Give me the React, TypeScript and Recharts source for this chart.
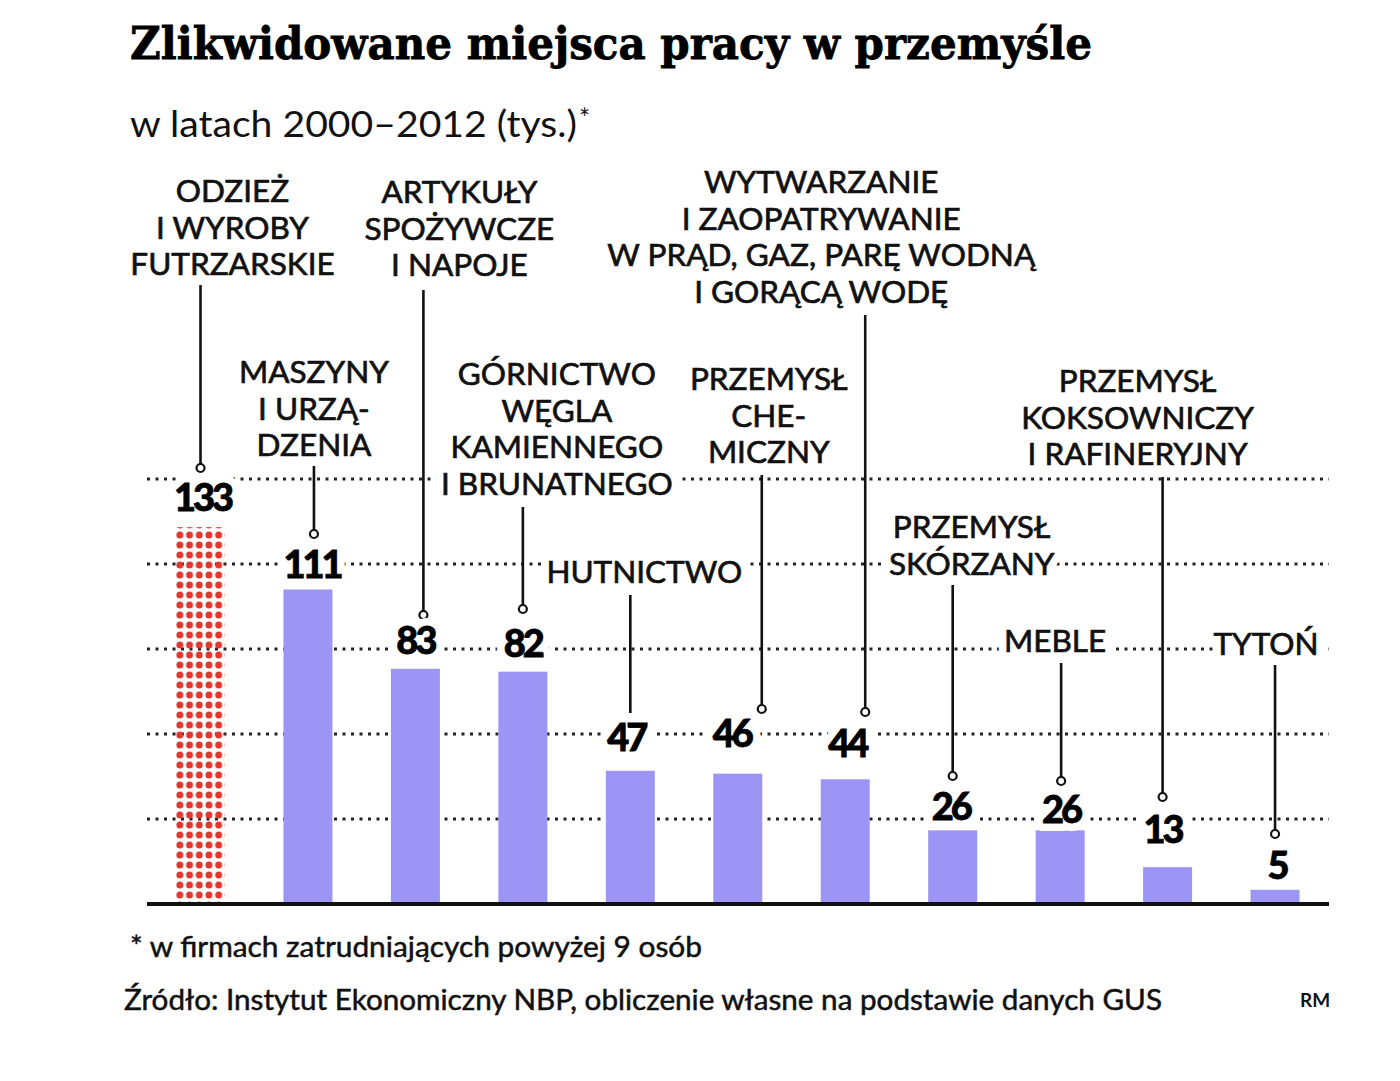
import React from 'react';
import { BarChart, Bar, XAxis, YAxis, CartesianGrid, ReferenceLine } from 'recharts';

const categoryLines: string[][] = [
  ['ODZIEŻ', 'I WYROBY', 'FUTRZARSKIE'],
  ['MASZYNY', 'I URZĄ-', 'DZENIA'],
  ['ARTYKUŁY', 'SPOŻYWCZE', 'I NAPOJE'],
  ['GÓRNICTWO', 'WĘGLA', 'KAMIENNEGO', 'I BRUNATNEGO'],
  ['HUTNICTWO'],
  ['PRZEMYSŁ', 'CHE-', 'MICZNY'],
  ['WYTWARZANIE', 'I ZAOPATRYWANIE', 'W PRĄD, GAZ, PARĘ WODNĄ', 'I GORĄCĄ WODĘ'],
  ['PRZEMYSŁ', 'SKÓRZANY'],
  ['MEBLE'],
  ['PRZEMYSŁ', 'KOKSOWNICZY', 'I RAFINERYJNY'],
  ['TYTOŃ'],
];
const values: number[] = [133, 111, 83, 82, 47, 46, 44, 26, 26, 13, 5];
const yTicks: number[] = [0, 30, 60, 90, 120, 150];

const data = values.map((v, i) => ({ name: categoryLines[i].join(' '), value: v }));

// annotation layout (positions only)
type Lay = { labelDx: number; labelY: number; leaderDx: number; lineTop: number; dotY: number; dot: boolean; valueDx: number; valueY: number };
const layout: Lay[] = [
  { labelDx: 32, labelY: 191, leaderDx: 0, lineTop: 285, dotY: 468, dot: true, valueDx: 2, valueY: 497 },
  { labelDx: 6, labelY: 372, leaderDx: 6, lineTop: 466, dotY: 534, dot: true, valueDx: 4, valueY: 564 },
  { labelDx: 44, labelY: 192, leaderDx: 8, lineTop: 290, dotY: 615, dot: true, valueDx: 0, valueY: 640 },
  { labelDx: 34, labelY: 374, leaderDx: 0, lineTop: 507, dotY: 609, dot: true, valueDx: 0, valueY: 643 },
  { labelDx: 14, labelY: 572, leaderDx: 0, lineTop: 595, dotY: 713, dot: false, valueDx: -4, valueY: 737 },
  { labelDx: 31, labelY: 379, leaderDx: 24, lineTop: 475, dotY: 709, dot: true, valueDx: -6, valueY: 733 },
  { labelDx: -24, labelY: 182, leaderDx: 20, lineTop: 315, dotY: 712, dot: true, valueDx: 2, valueY: 743 },
  { labelDx: 19, labelY: 527, leaderDx: 0, lineTop: 585, dotY: 776, dot: true, valueDx: -2, valueY: 806 },
  { labelDx: -5, labelY: 641, leaderDx: 1, lineTop: 663, dotY: 781, dot: true, valueDx: 1, valueY: 809 },
  { labelDx: -30, labelY: 381, leaderDx: -5, lineTop: 477, dotY: 797, dot: true, valueDx: -5, valueY: 829 },
  { labelDx: -9, labelY: 644, leaderDx: 0, lineTop: 665, dotY: 834, dot: true, valueDx: 2, valueY: 865 },
];

const LINE_H = 36.5;
const BAR_COLOR = '#9c95f5';
const INK = '#111';

const halo = { stroke: '#fff', strokeWidth: 16, strokeLinejoin: 'round' as const };

const BarShape = (props: any) => {
  const { x, y, width, height, index } = props;
  const cx = x + width / 2;
  const L = layout[index];
  const lines = categoryLines[index];
  const lx = cx + L.leaderDx;
  const labelFont = { fontFamily: "Lato, 'Open Sans', sans-serif", fontSize: 31.5, fontWeight: 400, textAnchor: 'middle' as const };
  const valueFont = { fontFamily: 'Lato, sans-serif', fontSize: 38, fontWeight: 900, letterSpacing: -3, textAnchor: 'middle' as const };
  return (
    <g>
      <rect x={x} y={y} width={width} height={height} fill={index === 0 ? 'url(#redDots)' : BAR_COLOR} />
      <line x1={lx} x2={lx} y1={L.lineTop} y2={L.dot ? L.dotY - 4 : L.dotY} stroke={INK} strokeWidth={2.6} />
      {L.dot && <circle cx={lx} cy={L.dotY} r={4} fill="#fff" stroke={INK} strokeWidth={2.2} />}
      {lines.map((t, k) => (
        <text key={'h' + k} x={cx + L.labelDx} y={L.labelY + k * LINE_H + 11} {...labelFont} fill="#fff" {...halo}>{t}</text>
      ))}
      {lines.map((t, k) => (
        <text key={'t' + k} x={cx + L.labelDx} y={L.labelY + k * LINE_H + 11} {...labelFont} fill={INK}
          stroke={INK} strokeWidth={0.7}>{t}</text>
      ))}
      <text x={cx + L.valueDx} y={L.valueY + 14} {...valueFont} fill="#fff" {...halo}>{values[index]}</text>
      <text x={cx + L.valueDx} y={L.valueY + 14} {...valueFont} fill="#000" stroke="#000" strokeWidth={0.8}>{values[index]}</text>
    </g>
  );
};

export default function App() {
  return (
    <div style={{ position: 'absolute', left: 0, top: 0, width: 1400, height: 1081, background: '#fff' }}>
      <BarChart width={1400} height={1081} data={data}
        margin={{ top: 479, right: 71, bottom: 177, left: 147 }} barCategoryGap={0}>
        <defs>
          <pattern id="redDots" patternUnits="userSpaceOnUse" x={175} y={0} width={9.7} height={10}>
            <circle cx={4.85} cy={5} r={3.5} fill="#e1372d" />
          </pattern>
        </defs>
        <XAxis dataKey="name" hide />
        <YAxis domain={[0, 150]} ticks={yTicks} hide />
        <CartesianGrid vertical={false} stroke="#222" strokeWidth={3} strokeDasharray="3 5.5" />
        <ReferenceLine y={0} stroke={INK} strokeWidth={4} />
        <Bar dataKey="value" barSize={49} isAnimationActive={false} shape={BarShape} />
      </BarChart>
      <svg width={1400} height={1081} style={{ position: 'absolute', left: 0, top: 0, pointerEvents: 'none' }}>
        <text x={130} y={59} fontFamily="'DejaVu Serif', serif" fontWeight={700} fontSize={45}
          textLength={962} lengthAdjust="spacingAndGlyphs" fill="#000" stroke="#000" strokeWidth={0.8}>
          Zlikwidowane miejsca pracy w przemyśle
        </text>
        <text x={130} y={137} fontFamily="Lato, sans-serif" fontSize={37} textLength={447}
          lengthAdjust="spacingAndGlyphs" fill="#111">
          w latach 2000–2012 (tys.)
        </text>
        <text x={579} y={128} fontFamily="Lato, sans-serif" fontSize={26} fill="#111">*</text>
        <text x={130} y={957} fontFamily="Lato, sans-serif" fontSize={28} textLength={572}
          lengthAdjust="spacingAndGlyphs" fill="#111" stroke="#111" strokeWidth={0.5}>
          * w firmach zatrudniających powyżej 9 osób
        </text>
        <text x={124} y={1010} fontFamily="Lato, sans-serif" fontSize={28} textLength={1038}
          lengthAdjust="spacingAndGlyphs" fill="#111" stroke="#111" strokeWidth={0.5}>
          Źródło: Instytut Ekonomiczny NBP, obliczenie własne na podstawie danych GUS
        </text>
        <text x={1300} y={1007} fontFamily="Lato, sans-serif" fontSize={19} fontWeight={700} fill="#111">RM</text>
      </svg>
    </div>
  );
}
